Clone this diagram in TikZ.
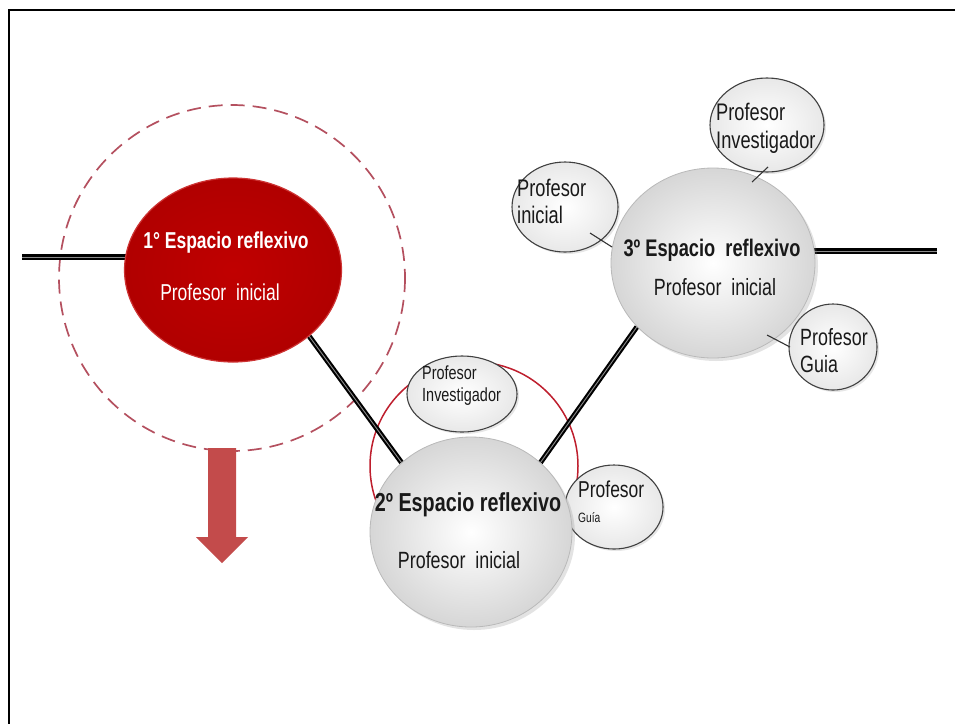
\documentclass[tikz,border=0pt]{standalone}
\usepackage{fontspec}
\setmainfont{Liberation Sans}
\newfontfamily\narrowsans[FakeStretch=0.76]{Liberation Sans}
\usetikzlibrary{shapes.geometric,shadows,calc}
\pgfdeclarelayer{bg}
\pgfsetlayers{bg,main}

\definecolor{deepred}{RGB}{192,0,0}
\definecolor{dashred}{RGB}{180,80,95}
\definecolor{ringred}{RGB}{190,30,45}
\definecolor{arrowred}{RGB}{195,75,75}
\definecolor{inktext}{RGB}{25,25,25}

\newcommand{\fsz}[2]{\fontsize{#1}{#2}\selectfont}

\tikzset{
  bigball/.style={ellipse, inner sep=0pt, draw=gray!55, line width=0.8pt,
    inner color=white, outer color=gray!32,
    drop shadow={opacity=0.22, shadow xshift=3pt, shadow yshift=-3pt}},
  redball/.style={ellipse, inner sep=0pt, draw=deepred!80, line width=1.2pt,
    inner color=deepred, outer color=deepred!92!black},
  smallball/.style={ellipse, inner sep=0pt, draw=black!75, line width=1.1pt,
    inner color=white, outer color=gray!18,
    drop shadow={opacity=0.2, shadow xshift=2pt, shadow yshift=-2pt}},
  bar/.style={draw=black, line width=2.1pt, double=black!45, double distance=0.9pt},
  tick/.style={draw=black!80, line width=1.1pt},
  title/.style={inner sep=0pt, font=\narrowsans\bfseries, text=inktext},
  sub/.style={inner sep=0pt, font=\narrowsans, text=inktext},
  lab/.style={inner sep=0pt, anchor=west, align=left, font=\narrowsans, text=inktext},
}

\begin{document}
\begin{tikzpicture}[x=1pt,y=-1pt]
  \useasboundingbox (0,0) rectangle (957,724);

  % frame (top and left edges)
  \draw[line width=1.2pt] (955,10) -- (9,10) -- (9,724);

  % satellite ellipses (drawn first so the big ones cover them)
  \node[smallball, minimum width=110, minimum height=76] (pinv2) at (462,394) {};
  \node[smallball, minimum width=98, minimum height=84] (pguia2) at (614,507) {};
  \node[smallball, minimum width=106, minimum height=90] (pini3) at (565,207) {};
  \node[smallball, minimum width=114, minimum height=94] (pinv3) at (767,125) {};
  \node[smallball, minimum width=88, minimum height=86] (pguia3) at (833,347) {};

  % the three reflective spaces
  \node[redball, minimum width=217, minimum height=184] (e1) at (233,270) {};
  \node[bigball, minimum width=202, minimum height=190] (e2) at (471,532) {};
  \node[bigball, minimum width=204, minimum height=190] (e3) at (713,263) {};

  % guide circles
  \node[circle, inner sep=0pt, minimum size=346] (halo) at (232,278) {};
  \node[circle, inner sep=0pt, minimum size=208] (ring) at (474,466) {};

  % free ends of the horizontal bars
  \coordinate (lend) at (22,257);
  \coordinate (rend) at (937,251);

  \begin{pgfonlayer}{bg}
    \draw[dashred, dash pattern=on 14pt off 8pt, line width=1.7pt]
      (halo.center) circle[radius=173];
    \draw[ringred, line width=1.5pt] (ring.center) circle[radius=104];
    \draw[bar] (lend) -- (lend -| e1);
    \draw[bar] (e1.-41) -- (e2.135);
    \draw[bar] (e2.45) -- (e3.-140);
    \draw[bar] (rend -| e3) -- (rend);
  \end{pgfonlayer}

  % short ticks between the satellites and the third space
  \coordinate (k1a) at (752,182); \coordinate (k1b) at (768,167);
  \coordinate (k2a) at (590,233); \coordinate (k2b) at (612,247);
  \coordinate (k3a) at (767,335); \coordinate (k3b) at (790,347);
  \draw[tick] (k1a) -- (k1b);
  \draw[tick] (k2a) -- (k2b);
  \draw[tick] (k3a) -- (k3b);

  % downward arrow
  \fill[arrowred] (208,448) -- (236,448) -- (236,537) -- (248,537) -- (222,563)
    -- (196,537) -- (208,537) -- cycle;

  % texts of the reflective spaces
  \node[title, text=white, font=\narrowsans\bfseries\fsz{23}{26}] (t1a) at (226,243) {1° Espacio reflexivo};
  \node[sub, text=white, font=\narrowsans\fsz{23}{26}] (t1b) at (220,292) {Profesor\ \ inicial};
  \node[title, font=\narrowsans\bfseries\fsz{26}{30}] (t2a) at (468,505) {2º Espacio reflexivo};
  \node[sub, font=\narrowsans\fsz{23.5}{27}] (t2b) at (459,560) {Profesor\ \ inicial};
  \node[title, font=\narrowsans\bfseries\fsz{24}{28}] (t3a) at (712,250) {3º Espacio\ \ reflexivo};
  \node[sub, font=\narrowsans\fsz{23.5}{27}] (t3b) at (715,287) {Profesor\ \ inicial};

  % satellite labels
  \node[lab, font=\narrowsans\fsz{19}{22}] (linv2) at (422,386) {Profesor\\Investigador};
  \node[lab, font=\narrowsans\fsz{23}{25}] (lguia2) at (578,502) {Profesor\\{\fsz{13.5}{15}Guía}};
  \node[lab, font=\narrowsans\fsz{24}{27}] (lini3) at (517,201) {Profesor\\inicial};
  \node[lab, font=\narrowsans\fsz{24}{28}] (linv3) at (716,128) {Profesor\\Investigador};
  \node[lab, font=\narrowsans\fsz{23.5}{27}] (lguia3) at (800,351) {Profesor\\Guia};
\end{tikzpicture}
\end{document}
